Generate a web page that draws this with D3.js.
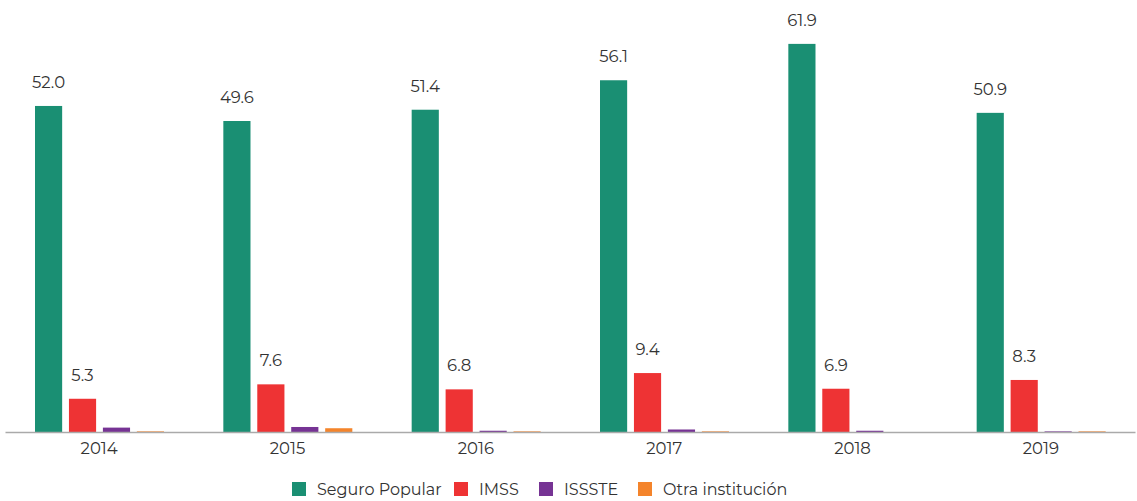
<!DOCTYPE html>
<html>
<head>
<meta charset="utf-8">
<script src="https://cdn.jsdelivr.net/npm/d3@7"></script>
<style>
  body { margin: 0; background: #fff; }
  svg { display: block; font-family: "Montserrat", "Noto Sans", Lato, sans-serif; }
</style>
</head>
<body>
<svg id="chart" width="1137" height="501"></svg>
<script>
// datos
const years = ['2014', '2015', '2016', '2017', '2018', '2019'];
const series = ['Seguro Popular', 'IMSS', 'ISSSTE', 'Otra institución'];
const seguroPopular = [52.0, 49.6, 51.4, 56.1, 61.9, 50.9];
const imss = [5.3, 7.6, 6.8, 9.4, 6.9, 8.3];
const issste = [0.7, 0.8, 0.2, 0.4, 0.2, 0.1];
const otra = [0.1, 0.6, 0.1, 0.1, 0.0, 0.1];
const colors = ['#1a8f73', '#ee3334', '#763394', '#f4842b'];
const labeled = [true, true, false, false];

const values = [seguroPopular, imss, issste, otra];

const svg = d3.select('#chart');
const baseY = 432;

const x = d3.scaleBand().domain(years).range([5, 1135]);
const xi = d3.scaleBand().domain(series).range([30, 159]).paddingInner(0.2);
const y = d3.scaleLinear().domain([0, 70]).range([baseY, baseY - 6.27 * 70]);

// barras
series.forEach((s, si) => {
    const g = svg.append('g');
    g.selectAll('rect')
        .data(years)
        .enter()
        .append('rect')
        .attr('x', d => x(d) + xi(s))
        .attr('y', (d, i) => y(values[si][i]))
        .attr('width', xi.bandwidth())
        .attr('height', (d, i) => baseY - y(values[si][i]))
        .attr('fill', colors[si]);

    if (labeled[si]) {
        g.selectAll('text')
            .data(years)
            .enter()
            .append('text')
            .attr('x', d => x(d) + xi(s) + xi.bandwidth() / 2)
            .attr('y', (d, i) => y(values[si][i]) - 18)
            .attr('text-anchor', 'middle')
            .attr('font-size', 16.5)
            .attr('fill', '#333')
            .text((d, i) => values[si][i].toFixed(1));
    }
});

// eje
const axis = svg.append('g')
    .attr('transform', `translate(0,${baseY})`)
    .call(d3.axisBottom(x).tickSize(0).tickPadding(10));
axis.select('.domain').attr('stroke', '#aaa').attr('stroke-width', 1.5);
axis.selectAll('text').attr('font-size', 16.5).attr('fill', '#333').attr('font-family', 'Montserrat, "Noto Sans", Lato, sans-serif');

// leyenda
const legendX = [292, 454, 539, 638];
const legend = svg.append('g').attr('transform', 'translate(0,489)');
series.forEach((s, i) => {
    legend.append('rect')
        .attr('x', legendX[i])
        .attr('y', -7)
        .attr('width', 14)
        .attr('height', 14)
        .attr('fill', colors[i]);
    legend.append('text')
        .attr('x', legendX[i] + 25)
        .attr('y', 0)
        .attr('dy', '0.35em')
        .attr('font-size', 16)
        .attr('fill', '#333')
        .text(s);
});
</script>
</body>
</html>
